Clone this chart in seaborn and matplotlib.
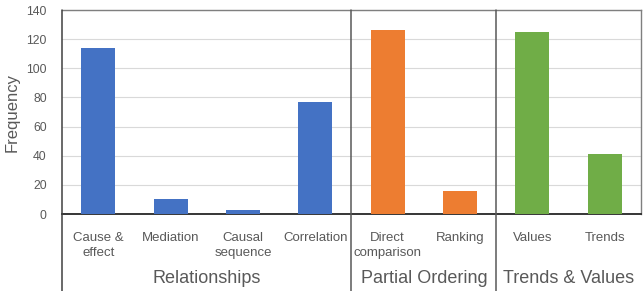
import matplotlib
matplotlib.use("Agg")
import matplotlib.pyplot as plt
import matplotlib.transforms as mtransforms
import seaborn as sns
import pandas as pd

# values
categories = ["Cause &\neffect", "Mediation", "Causal\nsequence", "Correlation",
              "Direct\ncomparison", "Ranking", "Values", "Trends"]
frequency = [114, 10, 3, 77, 126, 16, 125, 41]
groups = ["Relationships"] * 4 + ["Partial Ordering"] * 2 + ["Trends & Values"] * 2
group_names = ["Relationships", "Partial Ordering", "Trends & Values"]
group_colors = ["#4472C4", "#ED7D31", "#70AD47"]
y_ticks = [0, 20, 40, 60, 80, 100, 120, 140]

df = pd.DataFrame({"category": categories, "frequency": frequency, "group": groups})

sns.set_style("white")
plt.rcParams["font.family"] = ["Liberation Sans", "DejaVu Sans"]
text_color = "#595959"

fig = plt.figure(figsize=(6.44, 2.91), dpi=100)
ax = fig.add_axes([0.0963, 0.2646, 0.899, 0.701])

sns.barplot(data=df, x="category", y="frequency", hue="group",
            palette=dict(zip(group_names, group_colors)), dodge=False,
            width=0.47, saturation=1, legend=False, ax=ax, zorder=3,
            edgecolor="none", linewidth=0)

ax.set_ylim(0, 140)
ax.set_xlim(-0.5, len(categories) - 0.5)
ax.set_yticks(y_ticks)
ax.yaxis.grid(True, color="#d9d9d9", linewidth=0.8, zorder=0)
ax.set_axisbelow(True)
ax.tick_params(axis="y", length=0, labelsize=8.8, labelcolor=text_color, pad=11)
ax.tick_params(axis="x", length=0, labelsize=9.5, labelcolor=text_color, pad=13)
for lbl in ax.get_xticklabels():
    lbl.set_linespacing(1.35)
ax.set_xlabel("")
ax.set_ylabel("Frequency", fontsize=12, color=text_color, labelpad=5)

for side in ["top", "right"]:
    ax.spines[side].set_color("#7f7f7f")
    ax.spines[side].set_linewidth(1.0)
ax.spines["bottom"].set_color("#262626")
ax.spines["bottom"].set_linewidth(1.3)
ax.spines["left"].set_visible(False)

# vertical separators running down through the label area
trans = mtransforms.blended_transform_factory(ax.transData, ax.transAxes)
for xpos, col in [(-0.5, "#404040"), (3.5, "#595959"), (5.5, "#595959")]:
    ax.plot([xpos, xpos], [1, -0.45], transform=trans, color=col,
            linewidth=1.1, clip_on=False, zorder=5)

# group labels
group_centers = [1.5, 4.5, 6.5]
for name, xc in zip(group_names, group_centers):
    ax.text(xc, -0.315, name, transform=trans, ha="center", va="center",
            fontsize=13, color=text_color)

fig.savefig("out.png", dpi=100)
